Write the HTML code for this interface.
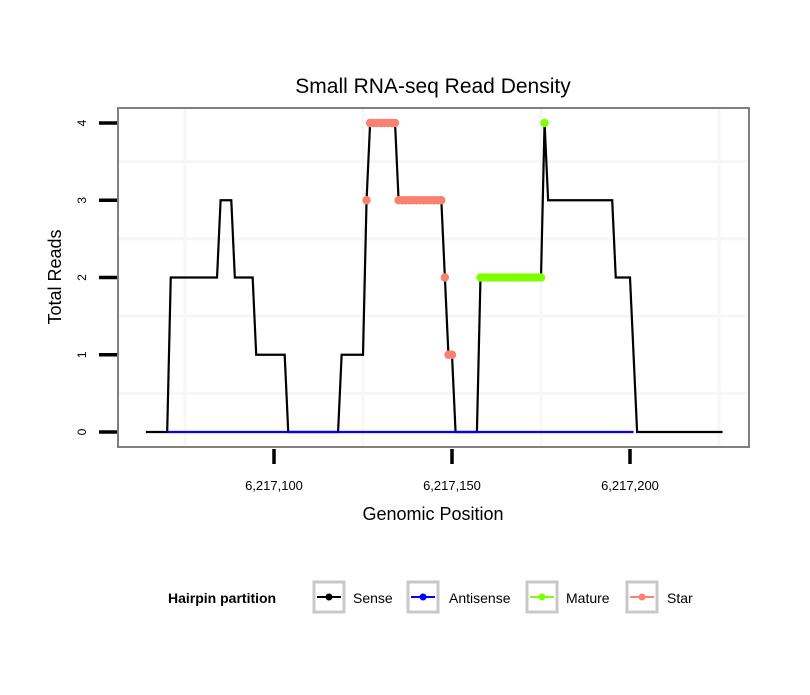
<!DOCTYPE html>
<html><head><meta charset="utf-8"><style>
body{margin:0;background:#fff;}
svg text{font-family:"Liberation Sans",sans-serif;}
</style></head><body>
<svg id="chart" width="810" height="690" xmlns="http://www.w3.org/2000/svg">
<text x="433" y="93" font-size="21" text-anchor="middle">Small RNA-seq Read Density</text>
<g id="grid"></g>
<g id="series"></g>
<rect x="118" y="108" width="631" height="339" fill="none" stroke="#808080" stroke-width="2"/>
<g id="axes"></g>
<text x="433" y="520" font-size="18" text-anchor="middle">Genomic Position</text>
<text transform="translate(61,277) rotate(-90)" font-size="18" text-anchor="middle">Total Reads</text>
<g font-size="14">
<text x="168" y="603" font-weight="bold">Hairpin partition</text>
<g><rect x="314" y="582" width="30" height="30" fill="#fff" stroke="#c8c8c8" stroke-width="3"/><line x1="317" y1="597" x2="341" y2="597" stroke="#000" stroke-width="2"/><circle cx="329" cy="597" r="3.5" fill="#000"/><text x="353" y="603">Sense</text></g>
<g><rect x="408" y="582" width="30" height="30" fill="#fff" stroke="#c8c8c8" stroke-width="3"/><line x1="411" y1="597" x2="435" y2="597" stroke="#0000ff" stroke-width="2"/><circle cx="423" cy="597" r="3.5" fill="#0000ff"/><text x="449" y="603">Antisense</text></g>
<g><rect x="527" y="582" width="30" height="30" fill="#fff" stroke="#c8c8c8" stroke-width="3"/><line x1="530" y1="597" x2="554" y2="597" stroke="#7fff00" stroke-width="2"/><circle cx="542" cy="597" r="3.5" fill="#7fff00"/><text x="566" y="603">Mature</text></g>
<g><rect x="627" y="582" width="30" height="30" fill="#fff" stroke="#c8c8c8" stroke-width="3"/><line x1="630" y1="597" x2="654" y2="597" stroke="#fa8072" stroke-width="2"/><circle cx="642" cy="597" r="3.5" fill="#fa8072"/><text x="667" y="603">Star</text></g>
</g>
</svg>
<script>
const senseX = [64,70,71,84,85,88,89,94,95,103,104,118,119,125,126,127,134,135,147,148,149,150,151,157,158,175,176,177,195,196,200,202,226];
const senseY = [0,0,2,2,3,3,2,2,1,1,0,0,1,1,3,4,4,3,3,2,1,1,0,0,2,2,4,3,3,2,2,0,0];
const antisenseX = [70,201];
const antisenseY = [0,0];
const matureX = [158,159,160,161,162,163,164,165,166,167,168,169,170,171,172,173,174,175,176];
const matureY = [2,2,2,2,2,2,2,2,2,2,2,2,2,2,2,2,2,2,4];
const starX = [126,127,128,129,130,131,132,133,134,135,136,137,138,139,140,141,142,143,144,145,146,147,148,149,150];
const starY = [3,4,4,4,4,4,4,4,4,3,3,3,3,3,3,3,3,3,3,3,3,3,2,1,1];
const xTicks = [100,150,200];
const xTickLabels = ["6,217,100","6,217,150","6,217,200"];
const yTicks = [0,1,2,3,4];
const xMinor = [75,125,175,225];
const yMinor = [0.5,1.5,2.5,3.5];
const NS="http://www.w3.org/2000/svg";
function sx(p){return 274+(p-100)*3.56;}
function sy(v){return 432-v*77.25;}
function mk(tag,attrs,parent){const e=document.createElementNS(NS,tag);for(const k in attrs)e.setAttribute(k,attrs[k]);parent.appendChild(e);return e;}
const grid=document.getElementById('grid'),series=document.getElementById('series'),axes=document.getElementById('axes');
xMinor.forEach(p=>{const l=mk('line',{x1:sx(p),x2:sx(p),y1:109,y2:446,stroke:'#f7f7f7','stroke-width':3},grid);

});
yMinor.forEach(v=>{const l=mk('line',{x1:119,x2:748,y1:sy(v),y2:sy(v),stroke:'#f7f7f7','stroke-width':3},grid);

});
function poly(xs,ys,color,name){const pts=xs.map((p,i)=>sx(p)+','+sy(ys[i])).join(' ');
const e=mk('polyline',{points:pts,fill:'none',stroke:color,'stroke-width':2.2,'stroke-linejoin':'miter'},series);

}
poly(senseX,senseY,'#000','sense-line');
poly(antisenseX,antisenseY,'#0000ff','antisense-line');
function dots(xs,ys,color,name){xs.forEach((p,i)=>{const c=mk('circle',{cx:sx(p),cy:sy(ys[i]),r:4.2,fill:color},series);

});}
dots(matureX,matureY,'#7fff00','mature-point');
dots(starX,starY,'#fa8072','star-point');
xTicks.forEach((p,i)=>{const t=mk('line',{x1:sx(p),x2:sx(p),y1:449,y2:464,stroke:'#000','stroke-width':3.5},axes);


const tx=mk('text',{x:sx(p),y:490,'font-size':13,'text-anchor':'middle'},axes);tx.textContent=xTickLabels[i];

});
yTicks.forEach(v=>{const t=mk('line',{x1:99,x2:117,y1:sy(v),y2:sy(v),stroke:'#000','stroke-width':3.5},axes);


const tx=mk('text',{transform:'translate(86,'+sy(v)+') rotate(-90)','font-size':12,'text-anchor':'middle'},axes);tx.textContent=v;

});
</script>
</body></html>
